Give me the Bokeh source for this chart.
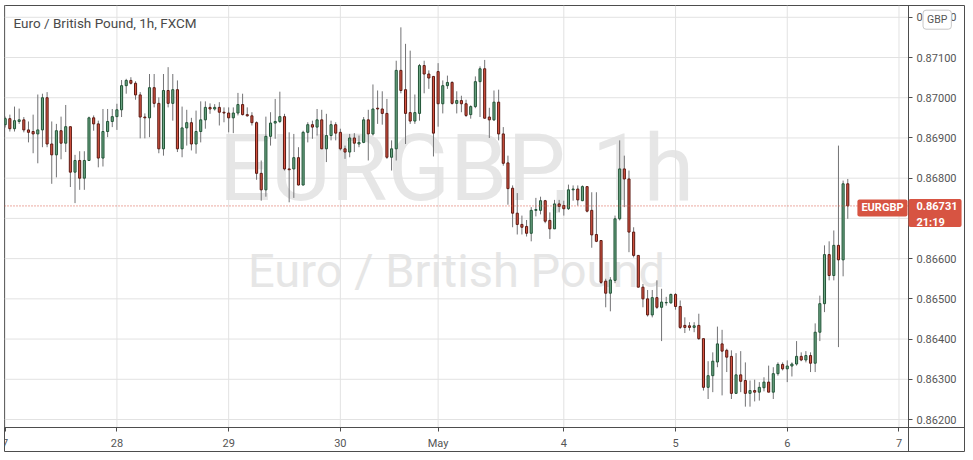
from bokeh.plotting import figure
from bokeh.models import FixedTicker, PrintfTickFormatter, Label, ColumnDataSource, Range1d
from bokeh.embed import file_html
from bokeh.resources import INLINE

# ---- data (EUR/GBP, 1h candles) ----
open_ = [0.86933,0.86948,0.86923,0.86941,0.86945,0.86920,0.86916,0.86910,0.86920,0.87000,
0.86885,0.86858,0.86918,0.86887,0.86928,0.86815,0.86844,0.86800,0.86844,0.86950,
0.86935,0.86850,0.86916,0.86941,0.86953,0.86970,0.87030,0.87043,0.87036,0.87007,
0.86952,0.86950,0.87025,0.86986,0.86873,0.87018,0.86986,0.87020,0.86873,0.86925,
0.86938,0.86885,0.86916,0.86945,0.86976,0.86972,0.86976,0.86964,0.86962,0.86950,
0.86962,0.86983,0.86958,0.86955,0.86938,0.86812,0.86771,0.86904,0.86937,0.86941,
0.86953,0.86823,0.86823,0.86851,0.86783,0.86914,0.86933,0.86927,0.86945,0.86873,
0.86906,0.86933,0.86914,0.86873,0.86865,0.86900,0.86885,0.86889,0.86945,0.86910,
0.86974,0.86972,0.86961,0.86852,0.86873,0.87068,0.87020,0.86963,0.86942,0.86961,
0.87080,0.87059,0.87053,0.87065,0.86985,0.87030,0.87038,0.86986,0.86993,0.86985,
0.86958,0.86978,0.87040,0.87072,0.86952,0.86945,0.86989,0.86910,0.86838,0.86775,
0.86713,0.86685,0.86680,0.86663,0.86720,0.86720,0.86744,0.86695,0.86674,0.86736,
0.86732,0.86724,0.86771,0.86773,0.86744,0.86779,0.86720,0.86660,0.86645,0.86544,
0.86514,0.86546,0.86699,0.86823,0.86798,0.86666,0.86608,0.86529,0.86500,0.86460,
0.86503,0.86479,0.86490,0.86490,0.86511,0.86481,0.86434,0.86433,0.86429,0.86434,
0.86401,0.86280,0.86309,0.86343,0.86388,0.86372,0.86357,0.86265,0.86311,0.86297,
0.86265,0.86272,0.86268,0.86279,0.86293,0.86268,0.86314,0.86337,0.86326,0.86333,
0.86338,0.86357,0.86348,0.86359,0.86340,0.86417,0.86488,0.86610,0.86558,0.86633,
0.86597,0.86786]

high = [0.86953,0.86958,0.86978,0.86973,0.86952,0.86941,0.86958,0.87008,0.87010,0.87014,
0.86941,0.86935,0.86953,0.86982,0.86928,0.86858,0.86867,0.86867,0.86953,0.86956,
0.86943,0.86972,0.86972,0.86972,0.86985,0.87044,0.87047,0.87051,0.87041,0.87014,
0.86961,0.87059,0.87059,0.87001,0.87059,0.87076,0.87059,0.87043,0.86978,0.86970,
0.86950,0.86968,0.86991,0.86991,0.86986,0.86984,0.86989,0.86976,0.86976,0.86976,
0.87012,0.87010,0.86976,0.86964,0.86941,0.86844,0.86953,0.86964,0.86997,0.87015,
0.86960,0.86914,0.86910,0.86877,0.86918,0.86939,0.86943,0.86972,0.86970,0.86960,
0.86943,0.86939,0.86923,0.86881,0.86910,0.86912,0.86906,0.86952,0.86970,0.87033,
0.87018,0.87016,0.86997,0.86894,0.87092,0.87175,0.87134,0.87117,0.87008,0.87084,
0.87092,0.87068,0.87053,0.87086,0.87043,0.87055,0.87041,0.87016,0.87005,0.86995,
0.86981,0.87053,0.87078,0.87094,0.86975,0.87018,0.87020,0.86927,0.86856,0.86782,
0.86763,0.86707,0.86696,0.86728,0.86751,0.86754,0.86746,0.86715,0.86746,0.86746,
0.86744,0.86784,0.86782,0.86782,0.86782,0.86779,0.86765,0.86765,0.86645,0.86550,
0.86554,0.86707,0.86894,0.86856,0.86819,0.86678,0.86608,0.86537,0.86522,0.86522,
0.86546,0.86525,0.86505,0.86513,0.86514,0.86496,0.86454,0.86442,0.86442,0.86463,
0.86401,0.86345,0.86367,0.86431,0.86423,0.86376,0.86372,0.86365,0.86370,0.86342,
0.86297,0.86299,0.86293,0.86305,0.86334,0.86330,0.86342,0.86342,0.86347,0.86342,
0.86395,0.86367,0.86370,0.86367,0.86439,0.86508,0.86633,0.86643,0.86670,0.86881,
0.86794,0.86798]

low = [0.86926,0.86916,0.86916,0.86935,0.86914,0.86889,0.86862,0.86837,0.86877,0.86877,
0.86786,0.86802,0.86847,0.86865,0.86778,0.86738,0.86771,0.86771,0.86844,0.86918,
0.86827,0.86829,0.86902,0.86927,0.86920,0.86952,0.87010,0.87033,0.86995,0.86899,
0.86899,0.86902,0.86976,0.86862,0.86856,0.86976,0.86943,0.86865,0.86852,0.86881,
0.86869,0.86861,0.86889,0.86923,0.86960,0.86968,0.86931,0.86939,0.86914,0.86912,
0.86956,0.86956,0.86953,0.86931,0.86796,0.86744,0.86754,0.86881,0.86898,0.86937,
0.86819,0.86740,0.86751,0.86782,0.86782,0.86889,0.86898,0.86906,0.86873,0.86840,
0.86894,0.86894,0.86869,0.86848,0.86852,0.86865,0.86877,0.86887,0.86844,0.86906,
0.86935,0.86933,0.86848,0.86819,0.86844,0.87011,0.86885,0.86935,0.86935,0.86943,
0.87011,0.87022,0.86854,0.86928,0.86961,0.87022,0.86983,0.86961,0.86964,0.86952,
0.86948,0.86974,0.86952,0.86949,0.86900,0.86942,0.86894,0.86831,0.86734,0.86678,
0.86660,0.86660,0.86655,0.86643,0.86705,0.86710,0.86688,0.86649,0.86674,0.86715,
0.86707,0.86721,0.86744,0.86732,0.86743,0.86715,0.86627,0.86641,0.86537,0.86479,
0.86469,0.86539,0.86695,0.86728,0.86616,0.86603,0.86529,0.86479,0.86456,0.86454,
0.86475,0.86395,0.86483,0.86488,0.86473,0.86425,0.86415,0.86421,0.86417,0.86398,
0.86272,0.86251,0.86268,0.86330,0.86260,0.86318,0.86251,0.86264,0.86268,0.86232,
0.86232,0.86245,0.86247,0.86270,0.86268,0.86251,0.86309,0.86322,0.86293,0.86307,
0.86334,0.86345,0.86342,0.86318,0.86318,0.86395,0.86467,0.86546,0.86546,0.86380,
0.86556,0.86699]

close = [0.86948,0.86923,0.86943,0.86945,0.86920,0.86914,0.86910,0.86920,0.87000,0.86885,
0.86858,0.86918,0.86887,0.86928,0.86815,0.86844,0.86800,0.86844,0.86950,0.86935,
0.86850,0.86916,0.86941,0.86953,0.86970,0.87030,0.87043,0.87036,0.87007,0.86952,
0.86950,0.87025,0.86986,0.86873,0.87018,0.86986,0.87020,0.86873,0.86925,0.86938,
0.86885,0.86916,0.86945,0.86976,0.86972,0.86976,0.86964,0.86962,0.86950,0.86962,
0.86983,0.86958,0.86955,0.86938,0.86812,0.86771,0.86904,0.86937,0.86941,0.86953,
0.86823,0.86821,0.86851,0.86783,0.86914,0.86933,0.86927,0.86945,0.86873,0.86906,
0.86933,0.86912,0.86873,0.86865,0.86900,0.86887,0.86889,0.86945,0.86910,0.86972,
0.86972,0.86961,0.86852,0.86873,0.87068,0.87018,0.86961,0.86942,0.86963,0.87080,
0.87059,0.87049,0.86912,0.86985,0.87030,0.87038,0.86986,0.86993,0.86985,0.86956,
0.86978,0.87040,0.87072,0.86949,0.86945,0.86989,0.86910,0.86837,0.86774,0.86713,
0.86685,0.86678,0.86663,0.86720,0.86722,0.86744,0.86693,0.86674,0.86736,0.86730,
0.86724,0.86771,0.86773,0.86746,0.86779,0.86718,0.86659,0.86643,0.86541,0.86514,
0.86547,0.86699,0.86823,0.86798,0.86666,0.86608,0.86529,0.86500,0.86460,0.86503,
0.86479,0.86492,0.86491,0.86511,0.86481,0.86429,0.86429,0.86429,0.86433,0.86401,
0.86280,0.86309,0.86345,0.86388,0.86370,0.86355,0.86265,0.86311,0.86295,0.86265,
0.86272,0.86268,0.86280,0.86293,0.86268,0.86314,0.86337,0.86326,0.86333,0.86338,
0.86357,0.86348,0.86359,0.86340,0.86417,0.86488,0.86610,0.86558,0.86633,0.86597,
0.86786,0.86731]

# day boundaries (bar index) and their labels (first one is "27", cut to "7")
day_ticks = [0, 24, 48, 72, 93, 120, 144, 168, 192]
day_labels = ["7", "28", "29", "30", "May", "4", "5", "6", "7"]
price_ticks = [0.862, 0.863, 0.864, 0.865, 0.866, 0.867, 0.868, 0.869, 0.870, 0.871, 0.872]

symbol = "EURGBP"
title_text = "Euro / British Pound, 1h, FXCM"
last_time = "21:19"
currency = "GBP"

# ---- layout: price pane bounds (bars / price) inside the full frame ----
PANE_X0, PANE_X1 = -0.15, 194.05        # bar-index extent of the price pane
PANE_Y0, PANE_Y1 = 0.861801, 0.872293   # price extent of the price pane
FULL_X1 = 206.29                        # frame continues under the price scale
FULL_Y0 = 0.86118                       # frame continues under the time scale

UP_FILL, UP_LINE = "#6ba583", "#225437"
DN_FILL, DN_LINE = "#d75442", "#5b1a13"
WICK = "#737375"
FRAME = "#4d4d4d"
TXT = "#555555"
GRID = "#e2e2e2"

idx = list(range(len(close)))
is_up = [c >= o for o, c in zip(open_, close)]
src = ColumnDataSource(dict(
    x=idx, high=high, low=low,
    top=[max(o, c) for o, c in zip(open_, close)],
    bottom=[min(o, c) for o, c in zip(open_, close)],
    fill=[UP_FILL if u else DN_FILL for u in is_up],
    line=[UP_LINE if u else DN_LINE for u in is_up],
))

p = figure(frame_width=961, frame_height=447, output_backend="svg", toolbar_location=None,
           x_range=Range1d(PANE_X0, FULL_X1), y_range=Range1d(FULL_Y0, PANE_Y1),
           y_axis_location="right",
           min_border_left=4, min_border_top=5, min_border_right=0, min_border_bottom=0)
p.outline_line_color = FRAME
p.background_fill_color = "white"
p.border_fill_color = "white"
p.xgrid.visible = False
p.ygrid.visible = False

# watermark
p.add_layout(Label(x=452, y=283.7, x_units="screen", y_units="screen", text=f"{symbol}, 1h",
                   text_align="center", text_baseline="alphabetic", text_font="Roboto",
                   text_font_size="92px", text_color="#e6e6e6", level="underlay"))
p.add_layout(Label(x=452, y=181.6, x_units="screen", y_units="screen", text="Euro / British Pound",
                   text_align="center", text_baseline="alphabetic", text_font="Roboto",
                   text_font_size="47px", text_color="#e6e6e6", level="underlay"))

# grid lines limited to the price pane
p.segment(x0=PANE_X0, x1=PANE_X1, y0=price_ticks, y1=price_ticks, line_color=GRID, line_width=1)
p.segment(x0=day_ticks, x1=day_ticks, y0=PANE_Y0, y1=PANE_Y1, line_color=GRID, line_width=1)

# candles
p.segment(x0="x", y0="low", x1="x", y1="high", source=src, line_color=WICK, line_width=1)
p.vbar(x="x", top="top", bottom="bottom", width=0.45, source=src,
       fill_color="fill", line_color="line", line_width=1)

# last price line
p.segment(x0=[PANE_X0], x1=[PANE_X1], y0=[close[-1]], y1=[close[-1]],
          line_color=DN_FILL, line_dash="1 2", line_width=1)

# axes: drawn at the pane edges (price scale right, time scale below)
xa = p.xaxis[0]
xa.fixed_location = PANE_Y0
xa.ticker = FixedTicker(ticks=day_ticks)
xa.major_label_overrides = {t: l for t, l in zip(day_ticks, day_labels)}
ya = p.yaxis[0]
ya.fixed_location = PANE_X1
ya.ticker = FixedTicker(ticks=price_ticks)
ya.formatter = PrintfTickFormatter(format="%.5f")
for ax in (xa, ya):
    ax.axis_line_color = FRAME
    ax.major_tick_line_color = FRAME
    ax.major_tick_out = 4
    ax.major_tick_in = 0
    ax.minor_tick_line_color = None
    ax.major_label_text_color = TXT
    ax.major_label_text_font = "Roboto"
    ax.major_label_text_font_size = "11px"
xa.major_label_standoff = 5
ya.major_label_standoff = 4

# title inside the pane
p.add_layout(Label(x=9, y=429.8, x_units="screen", y_units="screen", text=title_text,
                   text_align="left", text_baseline="alphabetic", text_font="Roboto",
                   text_font_size="13.5px", text_color="#4a4a4a"))


def make_label(pad, **kw):
    pads = [pad, (pad["left"], pad["right"], pad["top"], pad["bottom"]), max(pad.values())]
    for pd in pads:
        try:
            return Label(padding=pd, **kw)
        except Exception:
            pass
    return Label(**kw)


# symbol tag at the right edge of the pane
p.add_layout(make_label(dict(left=4, right=4, top=2, bottom=2),
                        x=903, y=close[-1], x_units="screen", y_units="data", text=symbol,
                        text_align="right", text_baseline="middle", y_offset=-2,
                        text_font="Roboto", text_font_size="11px", text_font_style="bold",
                        text_color="white", background_fill_color=DN_FILL, border_radius=2))

# price tag on the price scale
p.add_layout(make_label(dict(left=8, right=4, top=3, bottom=17),
                        x=904, y=close[-1], x_units="screen", y_units="data",
                        text=f"{close[-1]:.5f}",
                        text_align="left", text_baseline="top", y_offset=7,
                        text_font="Roboto", text_font_size="11px", text_font_style="bold",
                        text_color="white", background_fill_color=DN_FILL, border_radius=2))
p.add_layout(Label(x=912, y=close[-1], x_units="screen", y_units="data",
                   text=last_time, text_align="left", text_baseline="top", y_offset=-10,
                   text_font="Roboto", text_font_size="11px", text_font_style="bold",
                   text_color="white"))

# currency badge
p.add_layout(make_label(dict(left=4, right=4, top=3, bottom=3),
                        x=932.7, y=432.8, x_units="screen", y_units="screen", text=currency,
                        text_align="center", text_baseline="middle", text_font="Roboto",
                        text_font_size="10.5px", text_color=TXT, background_fill_color="white",
                        border_line_color="#c8c8c8", border_radius=3))

open("out.html", "w").write(file_html(p, INLINE))
